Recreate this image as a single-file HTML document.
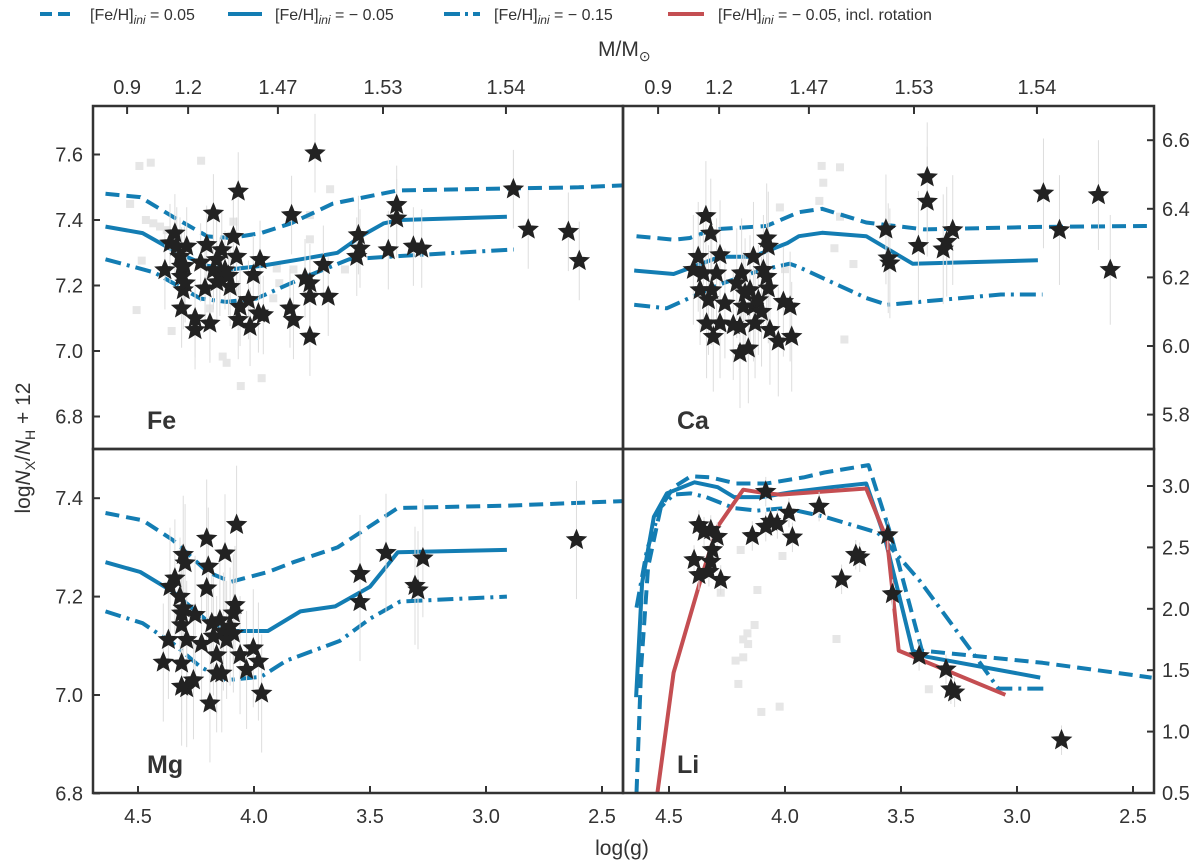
<!DOCTYPE html>
<html><head><meta charset="utf-8">
<style>
html,body{margin:0;padding:0;background:#fff;}
svg{display:block;font-family:"Liberation Sans",sans-serif;}
</style></head>
<body>
<svg id="chart" width="1200" height="868" viewBox="0 0 1200 868" xmlns="http://www.w3.org/2000/svg">
<defs>
<clipPath id="cFe"><rect x="93" y="106" width="530" height="343"/></clipPath>
<clipPath id="cCa"><rect x="623" y="106" width="531" height="343"/></clipPath>
<clipPath id="cMg"><rect x="93" y="449" width="530" height="344"/></clipPath>
<clipPath id="cLi"><rect x="623" y="449" width="531" height="344"/></clipPath>
</defs>
<g id="legend" font-size="16" fill="#333">
<g><line x1="40" y1="14" x2="76" y2="14" stroke="#137db3" stroke-width="4" stroke-dasharray="12,6"/><text x="90" y="20">[Fe/H]<tspan font-style="italic" font-size="12" dy="4">ini</tspan><tspan dy="-4"> = 0.05</tspan></text></g>
<g><line x1="228" y1="14" x2="262" y2="14" stroke="#137db3" stroke-width="4"/><text x="275" y="20">[Fe/H]<tspan font-style="italic" font-size="12" dy="4">ini</tspan><tspan dy="-4"> = − 0.05</tspan></text></g>
<g><line x1="444" y1="14" x2="480" y2="14" stroke="#137db3" stroke-width="4" stroke-dasharray="16,5,3,5"/><text x="494" y="20">[Fe/H]<tspan font-style="italic" font-size="12" dy="4">ini</tspan><tspan dy="-4"> = − 0.15</tspan></text></g>
<g><line x1="668" y1="14" x2="704" y2="14" stroke="#c44e52" stroke-width="4"/><text x="718" y="20">[Fe/H]<tspan font-style="italic" font-size="12" dy="4">ini</tspan><tspan dy="-4"> = − 0.05, incl. rotation</tspan></text></g>
</g>
<text x="598" y="56" font-size="21" fill="#333">M/M<tspan font-size="14" dy="5">⊙</tspan></text>
<text x="622" y="855" font-size="21" fill="#333" text-anchor="middle">log(g)</text>
<text transform="translate(30,448) rotate(-90)" font-size="21" fill="#333" text-anchor="middle">log<tspan font-style="italic">N</tspan><tspan font-size="14" dy="5">X</tspan><tspan dy="-5">/</tspan><tspan font-style="italic">N</tspan><tspan font-size="14" dy="5">H</tspan><tspan dy="-5"> + 12</tspan></text>
<g id="plots"></g>
</svg>
<script>
// ---- model line data (log g, abundance) ----
const feDashG=[4.64,4.49,4.35,4.2,4.1,3.97,3.84,3.66,3.38,3.0,2.6,2.37];
const feDashV=[7.48,7.47,7.41,7.35,7.345,7.36,7.39,7.45,7.49,7.495,7.50,7.507];
const feSolidG=[4.64,4.48,4.33,4.2,4.09,3.97,3.8,3.64,3.54,3.44,3.37,2.91];
const feSolidV=[7.38,7.36,7.30,7.26,7.25,7.26,7.28,7.30,7.35,7.39,7.40,7.41];
const feDotG=[4.64,4.43,4.23,4.12,3.99,3.8,3.59,3.37,2.88];
const feDotV=[7.28,7.24,7.16,7.15,7.16,7.22,7.28,7.29,7.31];
const caDashG=[4.64,4.48,4.41,4.31,4.08,3.94,3.84,3.65,3.40,2.93,2.44];
const caDashV=[6.32,6.31,6.315,6.34,6.35,6.39,6.40,6.36,6.34,6.347,6.35];
const caSolidG=[4.65,4.48,4.28,4.14,3.99,3.94,3.84,3.65,3.45,2.91];
const caSolidV=[6.22,6.21,6.26,6.26,6.30,6.32,6.33,6.32,6.24,6.25];
const caDotG=[4.65,4.51,4.28,4.11,3.98,3.94,3.65,3.56,3.07,2.89];
const caDotV=[6.12,6.11,6.18,6.22,6.24,6.23,6.14,6.12,6.15,6.15];
const mgDashG=[4.64,4.48,4.35,4.2,4.1,3.94,3.83,3.64,3.38,2.9,2.37];
const mgDashV=[7.37,7.355,7.315,7.25,7.23,7.25,7.27,7.30,7.38,7.385,7.395];
const mgSolidG=[4.64,4.49,4.35,4.2,4.09,3.94,3.8,3.65,3.5,3.38,2.91];
const mgSolidV=[7.27,7.25,7.21,7.15,7.13,7.13,7.17,7.18,7.22,7.29,7.295];
const mgDotG=[4.64,4.48,4.35,4.23,4.12,3.97,3.86,3.63,3.5,3.37,2.91];
const mgDotV=[7.17,7.146,7.105,7.057,7.03,7.037,7.07,7.11,7.155,7.19,7.20];
const liDashG=[4.64,4.62,4.59,4.535,4.48,4.405,4.32,4.21,4.08,3.92,3.83,3.64,3.54,3.41,2.89,2.42];
const liDashV=[0.5,1.53,2.34,2.83,2.99,3.08,3.07,3.02,3.02,3.07,3.11,3.17,2.58,1.66,1.56,1.44];
const liSolidG=[4.642,4.616,4.565,4.509,4.39,4.29,4.22,4.10,3.97,3.80,3.65,3.57,3.49,3.45,3.39,2.90];
const liSolidV=[1.28,2.21,2.75,2.94,3.03,2.99,2.91,2.91,2.95,2.99,3.02,2.58,1.97,1.66,1.61,1.44];
const liDotG=[4.64,4.595,4.535,4.48,4.405,4.34,4.22,4.12,4.0,3.83,3.60,3.42,3.19,3.08,2.88];
const liDotV=[2.01,2.48,2.83,2.93,2.94,2.91,2.82,2.80,2.82,2.75,2.62,2.23,1.64,1.35,1.35];
const liRotG=[4.55,4.48,4.36,4.29,4.18,4.08,4.02,3.65,3.56,3.51,3.05];
const liRotV=[0.5,1.48,2.26,2.67,2.97,2.94,2.93,2.98,2.56,1.66,1.30];
// ---- star data ----
const feStarG=[4.384,4.362,4.341,4.333,4.319,4.312,4.305,4.312,4.29,4.297,4.312,4.254,4.254,4.204,4.19,4.175,4.211,4.175,4.161,4.147,4.139,4.125,4.103,4.089,4.075,4.068,4.06,4.068,4.024,4.017,4.003,3.974,3.981,3.96,3.845,3.83,3.838,3.78,3.759,3.759,3.759,3.737,3.701,3.68,3.55,3.543,3.557,3.421,3.385,3.385,3.313,3.277,2.882,2.818,2.645,2.598,4.23,4.16,4.3,4.11];
const feStarV=[7.247,7.329,7.359,7.319,7.288,7.227,7.186,7.258,7.319,7.207,7.13,7.1,7.064,7.324,7.084,7.42,7.191,7.247,7.278,7.227,7.308,7.247,7.196,7.349,7.288,7.487,7.135,7.095,7.156,7.074,7.232,7.278,7.115,7.11,7.13,7.095,7.415,7.222,7.207,7.166,7.044,7.604,7.263,7.166,7.354,7.313,7.288,7.308,7.446,7.405,7.319,7.313,7.494,7.371,7.364,7.275,7.27,7.21,7.26,7.23];
const feSqG=[4.494,4.445,4.228,4.534,4.466,4.434,4.405,4.376,4.484,4.506,4.355,4.19,4.135,4.118,4.057,3.967,3.902,3.83,3.891,3.759,3.759,3.672,3.608,3.917,4.089];
const feSqV=[7.565,7.575,7.581,7.449,7.4,7.39,7.38,7.369,7.276,7.125,7.061,7.13,6.983,6.964,6.893,6.917,7.252,7.249,7.207,7.341,7.415,7.494,7.249,7.161,7.395];
const caStarG=[4.341,4.32,4.374,4.28,4.395,4.352,4.295,4.366,4.316,4.33,4.259,4.338,4.309,4.28,4.223,4.194,4.194,4.158,4.187,4.208,4.172,4.18,4.136,4.093,4.079,4.079,4.072,4.072,4.136,4.129,4.101,4.065,4.029,4.007,3.978,3.971,4.151,4.115,3.565,3.555,3.548,3.425,3.387,3.387,3.318,3.303,3.277,2.886,2.817,2.649,2.598];
const caStarV=[6.379,6.328,6.26,6.265,6.222,6.212,6.212,6.163,6.163,6.134,6.124,6.066,6.027,6.066,6.061,6.056,5.979,5.993,6.212,6.183,6.154,6.115,6.26,6.222,6.202,6.314,6.29,6.168,6.115,6.066,6.1,6.047,6.013,6.129,6.115,6.027,6.163,6.134,6.34,6.256,6.241,6.292,6.492,6.421,6.282,6.304,6.338,6.445,6.338,6.44,6.222];
const caSqG=[3.842,3.763,3.835,3.852,3.787,3.705,3.744,3.763,4.022,4.0];
const caSqV=[6.525,6.521,6.476,6.423,6.285,6.239,6.019,6.377,6.404,6.224];
const mgStarG=[4.391,4.369,4.362,4.341,4.319,4.312,4.312,4.305,4.305,4.297,4.29,4.312,4.312,4.29,4.261,4.254,4.226,4.204,4.204,4.197,4.182,4.175,4.161,4.161,4.139,4.147,4.132,4.103,4.118,4.089,4.089,4.082,4.06,4.032,4.003,3.981,3.967,4.075,4.125,4.19,3.543,3.543,3.431,3.306,3.293,3.272,2.61];
const mgStarV=[7.066,7.112,7.22,7.237,7.2,7.166,7.142,7.285,7.176,7.268,7.112,7.064,7.017,7.014,7.03,7.163,7.104,7.217,7.318,7.261,7.146,7.119,7.081,7.044,7.044,7.152,7.129,7.139,7.112,7.125,7.166,7.183,7.081,7.051,7.095,7.068,7.003,7.346,7.288,6.983,7.246,7.189,7.289,7.222,7.213,7.278,7.315];
const liStarG=[4.371,4.349,4.32,4.292,4.313,4.392,4.32,4.371,4.328,4.277,4.141,4.083,4.062,4.033,3.983,3.968,4.083,3.853,3.756,3.695,3.678,3.557,3.537,3.422,3.306,3.285,3.269,2.808];
const liStarV=[2.682,2.628,2.642,2.587,2.479,2.397,2.384,2.275,2.302,2.235,2.593,2.669,2.71,2.691,2.783,2.582,2.954,2.832,2.24,2.44,2.42,2.60,2.12,1.616,1.507,1.345,1.32,0.93];
const liSqG=[4.191,4.011,4.119,4.277,4.131,4.162,4.18,4.159,4.213,4.18,4.201,4.102,4.023,3.778,3.38];
const liSqV=[2.479,2.43,2.153,2.131,1.868,1.8,1.751,1.713,1.578,1.605,1.388,1.16,1.203,1.754,1.345];
// ticks
const xTicks=[4.5,4.0,3.5,3.0,2.5];
const massTickG=[4.547,4.284,3.897,3.444,2.914];
const massLabels=["0.9","1.2","1.47","1.53","1.54"];
const feTicks=[6.8,7.0,7.2,7.4,7.6];
const caTicks=[5.8,6.0,6.2,6.4,6.6];
const mgTicks=[6.8,7.0,7.2,7.4];
const liTicks=[0.5,1.0,1.5,2.0,2.5,3.0];

const NS="http://www.w3.org/2000/svg";
const root=document.getElementById('plots');
function el(tag,attrs,parent){const e=document.createElementNS(NS,tag);for(const k in attrs)e.setAttribute(k,attrs[k]);(parent||root).appendChild(e);return e;}
const BLUE="#137db3",RED="#c44e52";
const panels={
 fe:{x0:93,x1:623,y0:106,y1:449,gx:138,yr:351,vr:7.0,s:327.5,clip:'cFe',side:'left',top:true,label:'Fe'},
 ca:{x0:623,x1:1154,y0:106,y1:449,gx:669,yr:346,vr:6.0,s:343,clip:'cCa',side:'right',top:true,label:'Ca'},
 mg:{x0:93,x1:623,y0:449,y1:793,gx:138,yr:695,vr:7.0,s:492,clip:'cMg',side:'left',top:false,label:'Mg'},
 li:{x0:623,x1:1154,y0:449,y1:793,gx:669,yr:793,vr:0.5,s:122.8,clip:'cLi',side:'right',top:false,label:'Li'}
};
function X(p,g){return p.gx+(4.5-g)*232;}
function Y(p,v){return p.yr-(v-p.vr)*p.s;}
function line(p,gs,vs,color,dash,name){
 const d=gs.map((g,i)=>(i?'L':'M')+X(p,g).toFixed(1)+','+Y(p,vs[i]).toFixed(1)).join('');
 const a={d:d,fill:'none',stroke:color,'stroke-width':4,'clip-path':'url(#'+p.clip+')','stroke-linejoin':'round'};
 if(dash)a['stroke-dasharray']=dash;
 const e=el('path',a);
 
 
}
function starPath(cx,cy,r){let d='';for(let i=0;i<10;i++){const rr=i%2?r*0.45:r;const a=-Math.PI/2+i*Math.PI/5;d+=(i?'L':'M')+(cx+rr*Math.cos(a)).toFixed(1)+','+(cy+rr*Math.sin(a)).toFixed(1);}return d+'Z';}
function squares(p,gs,vs,name){gs.forEach((g,i)=>{const e=el('rect',{x:X(p,g)-4,y:Y(p,vs[i])-4,width:8,height:8,fill:'#e6e6e6','clip-path':'url(#'+p.clip+')'});
 
 });}
function stars(p,gs,vs,err,name){
 gs.forEach((g,i)=>{const x=X(p,g),y=Y(p,vs[i]);const eb=el('line',{x1:x,x2:x,y1:y-err*p.s,y2:y+err*p.s,stroke:'#ddd','stroke-width':1,'clip-path':'url(#'+p.clip+')'});
 
 });
 gs.forEach((g,i)=>{const e=el('path',{d:starPath(X(p,g),Y(p,vs[i]),10),fill:'#222',stroke:'#222','stroke-width':1,'clip-path':'url(#'+p.clip+')'});
 
 });
}
function axes(p,key,yt){
 xTicks.forEach(g=>{const x=X(p,g);if(x<p.x0||x>p.x1)return;
  if(!p.top){el('line',{x1:x,x2:x,y1:p.y1,y2:p.y1-7,stroke:'#333','stroke-width':2});
  const t=el('text',{x:x,y:p.y1+30,'font-size':20,fill:'#333','text-anchor':'middle'});t.textContent=g.toFixed(1);
  
  }});
 if(p.top){massTickG.forEach((g,i)=>{const x=X(p,g);el('line',{x1:x,x2:x,y1:p.y0,y2:p.y0+8,stroke:'#333','stroke-width':2});
  const t=el('text',{x:x,y:p.y0-12,'font-size':20,fill:'#333','text-anchor':'middle'});t.textContent=massLabels[i];
  
  });}
 yt.forEach(v=>{const y=Y(p,v);
  if(p.side==='left'){el('line',{x1:p.x0,x2:p.x0+7,y1:y,y2:y,stroke:'#333','stroke-width':2});
   const t=el('text',{x:p.x0-10,y:y+7,'font-size':20,fill:'#333','text-anchor':'end'});t.textContent=v.toFixed(1);
   
   }
  else{el('line',{x1:p.x1,x2:p.x1-7,y1:y,y2:y,stroke:'#333','stroke-width':2});
   const t=el('text',{x:p.x1+8,y:y+7,'font-size':20,fill:'#333'});t.textContent=v.toFixed(1);
   
   }
 });
 const r=el('rect',{x:p.x0,y:p.y0,width:p.x1-p.x0,height:p.y1-p.y0,fill:'none',stroke:'#333','stroke-width':2.5});
 
 
 const lb=el('text',{x:p.x0+54,y:p.y1-20,'font-size':25,'font-weight':'bold',fill:'#333'});lb.textContent=p.label;
 
 
}
const DASH='14,7',DOT='16,6,3,6';
let p=panels.fe;
squares(p,feSqG,feSqV,'fe-reference-square');
line(p,feDashG,feDashV,BLUE,DASH,'fe-line-feh-0.05');
line(p,feSolidG,feSolidV,BLUE,null,'fe-line-feh-minus-0.05');
line(p,feDotG,feDotV,BLUE,DOT,'fe-line-feh-minus-0.15');
stars(p,feStarG,feStarV,0.12,'fe-star');
axes(p,'fe',feTicks);
p=panels.ca;
squares(p,caSqG,caSqV,'ca-reference-square');
line(p,caDashG,caDashV,BLUE,DASH,'ca-line-feh-0.05');
line(p,caSolidG,caSolidV,BLUE,null,'ca-line-feh-minus-0.05');
line(p,caDotG,caDotV,BLUE,DOT,'ca-line-feh-minus-0.15');
stars(p,caStarG,caStarV,0.16,'ca-star');
axes(p,'ca',caTicks);
p=panels.mg;
line(p,mgDashG,mgDashV,BLUE,DASH,'mg-line-feh-0.05');
line(p,mgSolidG,mgSolidV,BLUE,null,'mg-line-feh-minus-0.05');
line(p,mgDotG,mgDotV,BLUE,DOT,'mg-line-feh-minus-0.15');
stars(p,mgStarG,mgStarV,0.12,'mg-star');
axes(p,'mg',mgTicks);
p=panels.li;
squares(p,liSqG,liSqV,'li-reference-square');
line(p,liDashG,liDashV,BLUE,DASH,'li-line-feh-0.05');
line(p,liSolidG,liSolidV,BLUE,null,'li-line-feh-minus-0.05');
line(p,liDotG,liDotV,BLUE,DOT,'li-line-feh-minus-0.15');
line(p,liRotG,liRotV,RED,null,'li-line-rotation');
stars(p,liStarG,liStarV,0.12,'li-star');
axes(p,'li',liTicks);
</script>
</body></html>
